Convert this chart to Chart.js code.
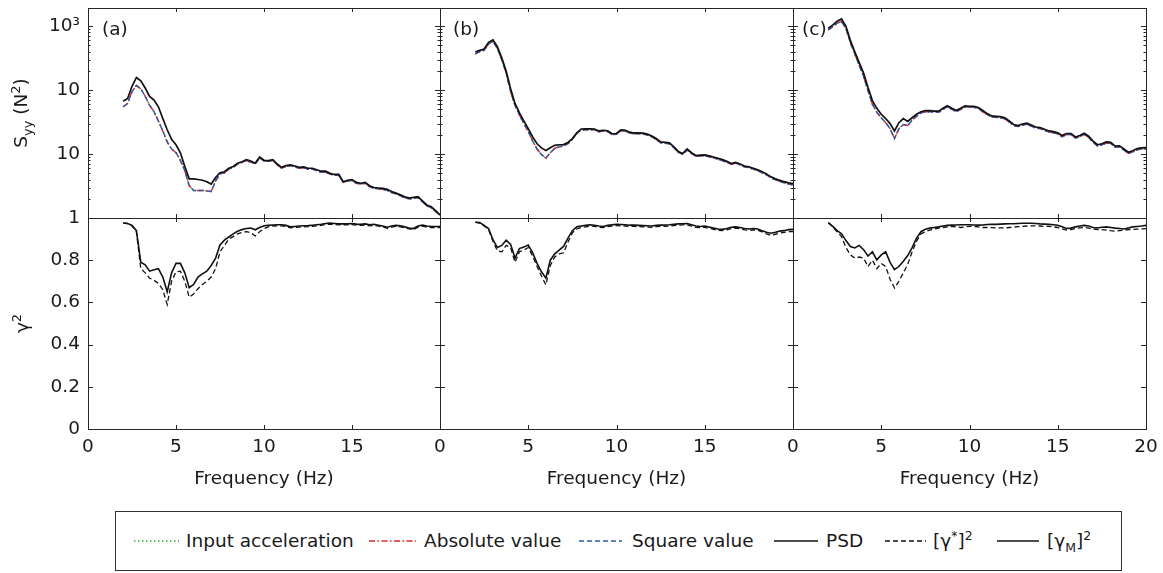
<!DOCTYPE html>
<html>
<head>
<meta charset="utf-8">
<script src="https://cdn.jsdelivr.net/npm/chart.js@4.4.0/dist/chart.umd.min.js"></script>
<style>
  html, body { margin: 0; padding: 0; background: #fff; }
  body { width: 1163px; height: 573px; position: relative; overflow: hidden; font-family: "DejaVu Sans", sans-serif; color: #1a1a1a; }
  canvas { position: absolute; }
  #legend { position: absolute; left: 115px; top: 511px; width: 1007px; height: 60px; border: 1px solid #333; box-sizing: border-box; }
  #legend svg { position: absolute; top: 26px; }
  #legend span { position: absolute; top: 0; line-height: 58px; font-size: 18.5px; white-space: nowrap; }
  #legend sup, #legend sub { font-size: 12.5px; line-height: 0; }
</style>
</head>
<body>
<canvas id="topA" width="462" height="250" style="left:0px;top:-12px"></canvas>
<canvas id="topB" width="397" height="250" style="left:418px;top:-12px"></canvas>
<canvas id="topC" width="397" height="250" style="left:771px;top:-12px"></canvas>
<canvas id="botA" width="462" height="297" style="left:0px;top:198px"></canvas>
<canvas id="botB" width="397" height="297" style="left:418px;top:198px"></canvas>
<canvas id="botC" width="397" height="297" style="left:771px;top:198px"></canvas>

<div id="legend">
  <svg width="45" height="6" style="left:18px"><line x1="0" y1="3" x2="45" y2="3" stroke="#3aa83a" stroke-width="1.5" stroke-dasharray="1.5 2.5"/></svg>
  <span style="left:70px">Input acceleration</span>
  <svg width="47" height="6" style="left:253px"><line x1="0" y1="3" x2="47" y2="3" stroke="#e3262b" stroke-width="1.5" stroke-dasharray="6 2.5 1.5 2.5"/></svg>
  <span style="left:308px">Absolute value</span>
  <svg width="43" height="6" style="left:463px"><line x1="0" y1="3" x2="43" y2="3" stroke="#2f58b0" stroke-width="1.5" stroke-dasharray="5 3"/></svg>
  <span style="left:516px">Square value</span>
  <svg width="44" height="6" style="left:658px"><line x1="0" y1="3" x2="44" y2="3" stroke="#111" stroke-width="1.6"/></svg>
  <span style="left:710px">PSD</span>
  <svg width="41" height="6" style="left:769px"><line x1="0" y1="3" x2="41" y2="3" stroke="#111" stroke-width="1.4" stroke-dasharray="5 3"/></svg>
  <span style="left:817px">[γ<sup>*</sup>]<sup>2</sup></span>
  <svg width="42" height="6" style="left:881px"><line x1="0" y1="3" x2="42" y2="3" stroke="#111" stroke-width="1.6"/></svg>
  <span style="left:931px">[γ<sub>M</sub>]<sup>2</sup></span>
</div>

<script>
// frequency axis (Hz)
const freq = [2, 2.25, 2.5, 2.75, 3, 3.25, 3.5, 3.75, 4, 4.25, 4.5, 4.75, 5, 5.25, 5.5, 5.75, 6, 6.25, 6.5, 6.75, 7, 7.25,
  7.5, 7.75, 8, 8.25, 8.5, 8.75, 9, 9.25, 9.5, 9.75, 10, 10.25, 10.5, 10.75, 11, 11.25, 11.5, 11.75, 12, 12.25,
  12.5, 12.75, 13, 13.25, 13.5, 13.75, 14, 14.25, 14.5, 14.75, 15, 15.25, 15.5, 15.75, 16, 16.25, 16.5, 16.75,
  17, 17.25, 17.5, 17.75, 18, 18.25, 18.5, 18.75, 19, 19.25, 19.5, 19.75, 20];

// tick values and labels
const xTicks = [0, 5, 10, 15, 20];
const xLabelsA = ['0', '5', '10', '15', ''];
const xLabelsB = ['0', '5', '10', '15', ''];
const xLabelsC = ['0', '5', '10', '15', '20'];
const psdTicks = [1, 10, 100, 1000];
const psdTickLabels = ['', '10', '10', '10\u00B3'];
const psdMax = 1930;
const cohTicks = [0, 0.2, 0.4, 0.6, 0.8, 1];
const cohTickLabels = ['0', '0.2', '0.4', '0.6', '0.8', '1'];

// (a) S_yy
const psdA = [67, 74, 115, 158, 140, 108, 80, 70, 55, 36, 24, 17, 14, 10.5, 6.4, 4.1, 4.1, 4.0, 3.9, 3.7, 3.4, 4.3,
  5.1, 5.3, 6.0, 6.4, 7.2, 7.6, 8.2, 7.8, 7.2, 9.0, 8.0, 7.9, 8.2, 7.0, 6.2, 6.6, 6.8, 6.5, 6.2, 6.3,
  6.0, 6.0, 5.7, 5.4, 5.4, 5.0, 4.8, 4.8, 3.7, 3.9, 4.0, 3.6, 3.5, 3.6, 3.2, 3.0, 2.95, 2.9,
  2.8, 2.6, 2.45, 2.3, 2.15, 2.05, 2.1, 2.15, 1.85, 1.6, 1.5, 1.3, 1.12];
const squareA = [55, 62, 95, 118, 105, 80, 58, 46, 33, 23, 15.5, 12, 10.5, 8, 5.5, 3.2, 2.7, 2.7, 2.7, 2.65, 2.6, 3.8,
  4.9, 5.1, 5.8, 6.2, 7.0, 7.4, 7.9, 7.5, 7.0, 8.7, 7.8, 7.7, 7.9, 6.8, 6.0, 6.4, 6.6, 6.3, 6.0, 6.1,
  5.8, 5.8, 5.5, 5.2, 5.2, 4.85, 4.65, 4.65, 3.6, 3.8, 3.85, 3.5, 3.4, 3.5, 3.1, 2.9, 2.85, 2.8,
  2.7, 2.5, 2.38, 2.23, 2.08, 1.98, 2.03, 2.08, 1.8, 1.55, 1.45, 1.27, 1.1];
// the input-acceleration and absolute-value curves lie on top of the square-value curve
const inputA = squareA;
const absA = squareA;
// (a) coherence
const gMA = [0.976, 0.974, 0.965, 0.94, 0.79, 0.778, 0.748, 0.755, 0.76, 0.72, 0.65, 0.74, 0.785, 0.785, 0.74, 0.67, 0.685, 0.72, 0.735, 0.748, 0.775, 0.81,
  0.872, 0.895, 0.91, 0.925, 0.937, 0.945, 0.95, 0.952, 0.944, 0.955, 0.963, 0.965, 0.967, 0.968, 0.968, 0.965, 0.958, 0.96, 0.962, 0.963,
  0.964, 0.966, 0.968, 0.97, 0.974, 0.976, 0.974, 0.972, 0.973, 0.972, 0.974, 0.971, 0.97, 0.972, 0.968, 0.97, 0.966, 0.962,
  0.956, 0.962, 0.965, 0.963, 0.958, 0.953, 0.95, 0.962, 0.966, 0.962, 0.96, 0.96, 0.96];
const gStarA = [0.976, 0.974, 0.963, 0.935, 0.76, 0.74, 0.715, 0.705, 0.69, 0.66, 0.59, 0.70, 0.745, 0.748, 0.70, 0.625, 0.64, 0.665, 0.685, 0.70, 0.72, 0.76,
  0.84, 0.87, 0.90, 0.912, 0.925, 0.932, 0.935, 0.93, 0.915, 0.935, 0.95, 0.958, 0.962, 0.963, 0.963, 0.96, 0.953, 0.955, 0.957, 0.958,
  0.959, 0.961, 0.963, 0.965, 0.969, 0.971, 0.969, 0.967, 0.968, 0.967, 0.969, 0.966, 0.965, 0.967, 0.963, 0.965, 0.961, 0.957,
  0.951, 0.957, 0.96, 0.958, 0.953, 0.948, 0.945, 0.957, 0.961, 0.957, 0.955, 0.955, 0.955];

// (b) S_yy
const psdB = [395, 420, 440, 560, 610, 480, 320, 197, 105, 62, 44, 33, 25, 18.5, 14.5, 12.5, 11.4, 12.6, 13.7, 14, 14.1, 15.2,
  17.5, 21.5, 24.7, 24.8, 24.8, 24.7, 23, 23.6, 23.2, 20.8, 21.0, 24.0, 23.5, 22, 21.4, 21.4, 21.3, 20.5, 19.2, 17.5,
  15.5, 15.3, 15, 13, 11, 10.2, 12, 10.5, 9.5, 9.6, 9.7, 9.4, 9.0, 8.6, 8.2, 7.7, 7.1, 7.4,
  7.0, 6.5, 6.3, 6.0, 5.7, 5.3, 4.9, 4.4, 4.1, 3.9, 3.7, 3.55, 3.45];
const squareB = [370, 400, 420, 530, 580, 450, 300, 185, 95, 58, 41, 30, 22.5, 16, 12, 9.8, 8.7, 10.5, 12.3, 13, 13.4, 14.5,
  17, 21, 24, 24, 24, 24, 22.3, 22.9, 22.5, 20.2, 20.4, 23.3, 22.8, 21.3, 20.8, 20.8, 20.7, 19.9, 18.6, 17,
  15, 14.8, 14.5, 12.6, 10.7, 9.9, 11.6, 10.2, 9.2, 9.3, 9.4, 9.1, 8.7, 8.3, 7.9, 7.4, 6.9, 7.2,
  6.8, 6.3, 6.1, 5.8, 5.5, 5.1, 4.75, 4.25, 3.95, 3.75, 3.55, 3.4, 3.3];
const inputB = squareB;
const absB = squareB;
const gMB = [0.98, 0.978, 0.965, 0.95, 0.897, 0.86, 0.87, 0.895, 0.875, 0.81, 0.855, 0.862, 0.872, 0.835, 0.785, 0.745, 0.715, 0.8, 0.83, 0.848, 0.865, 0.905,
  0.94, 0.958, 0.962, 0.965, 0.968, 0.966, 0.962, 0.96, 0.965, 0.968, 0.97, 0.969, 0.968, 0.966, 0.966, 0.965, 0.964, 0.963, 0.962, 0.965,
  0.966, 0.967, 0.968, 0.97, 0.972, 0.973, 0.974, 0.968, 0.962, 0.96, 0.962, 0.957, 0.952, 0.948, 0.946, 0.95, 0.956, 0.958,
  0.955, 0.95, 0.948, 0.95, 0.948, 0.94, 0.932, 0.928, 0.932, 0.938, 0.94, 0.945, 0.946];
const gStarB = [0.98, 0.976, 0.962, 0.945, 0.89, 0.845, 0.84, 0.87, 0.86, 0.79, 0.84, 0.848, 0.86, 0.82, 0.77, 0.725, 0.683, 0.775, 0.815, 0.83, 0.835, 0.885,
  0.93, 0.948, 0.955, 0.958, 0.962, 0.96, 0.956, 0.954, 0.959, 0.962, 0.964, 0.963, 0.962, 0.96, 0.96, 0.959, 0.958, 0.957, 0.956, 0.959,
  0.96, 0.961, 0.962, 0.964, 0.966, 0.967, 0.968, 0.962, 0.956, 0.954, 0.956, 0.951, 0.946, 0.942, 0.94, 0.944, 0.95, 0.952,
  0.949, 0.944, 0.942, 0.944, 0.942, 0.934, 0.925, 0.918, 0.922, 0.928, 0.932, 0.935, 0.936];

// (c) S_yy
const psdC = [930, 1040, 1200, 1300, 1000, 600, 400, 270, 185, 110, 68, 52, 42, 36, 30, 23, 31, 36, 32.5, 37, 42, 46,
  48, 48, 47, 47, 52, 57, 52, 48, 52, 57, 56, 56, 53.5, 48, 43, 39.5, 39, 38.5, 37, 33,
  29, 28, 29.5, 30.5, 28.5, 26.5, 26, 24.5, 23, 22.5, 21.5, 19.5, 21, 21, 18.5, 19.5, 21.2, 19,
  16, 14, 14.5, 15.5, 15.3, 13.3, 13.5, 12, 10.7, 11.3, 12.2, 12.5, 12.6];
const squareC = [880, 980, 1120, 1180, 920, 550, 370, 245, 165, 98, 60, 45, 37, 31, 25, 17.5, 25, 29, 28, 34, 39, 44,
  46, 46, 45, 45, 50, 55, 50, 46, 50, 55, 54, 54, 51.5, 46, 41.5, 38, 37.5, 37, 35.5, 31.7,
  28, 27, 28.3, 29.3, 27.4, 25.5, 25, 23.5, 22.1, 21.6, 20.6, 18.7, 20.2, 20.2, 17.8, 18.7, 20.4, 18.2,
  15.4, 13.4, 13.9, 14.9, 14.7, 12.8, 13, 11.5, 10.3, 10.8, 11.7, 12, 12.1];
const inputC = squareC;
const absC = squareC;
const gMC = [0.978, 0.96, 0.94, 0.925, 0.893, 0.865, 0.858, 0.87, 0.85, 0.82, 0.84, 0.802, 0.825, 0.84, 0.79, 0.755, 0.77, 0.795, 0.822, 0.86, 0.905, 0.935,
  0.947, 0.952, 0.955, 0.958, 0.962, 0.965, 0.966, 0.967, 0.968, 0.968, 0.968, 0.967, 0.966, 0.967, 0.969, 0.97, 0.97, 0.971, 0.972, 0.973,
  0.973, 0.974, 0.975, 0.975, 0.975, 0.974, 0.972, 0.971, 0.97, 0.968, 0.966, 0.958, 0.95, 0.952, 0.958, 0.962, 0.965, 0.962,
  0.955, 0.953, 0.956, 0.958, 0.955, 0.952, 0.95, 0.948, 0.953, 0.958, 0.96, 0.962, 0.965];
const gStarC = [0.978, 0.958, 0.935, 0.912, 0.86, 0.825, 0.81, 0.815, 0.81, 0.77, 0.80, 0.76, 0.785, 0.77, 0.71, 0.668, 0.70, 0.74, 0.78, 0.84, 0.89, 0.925,
  0.935, 0.943, 0.948, 0.952, 0.955, 0.958, 0.96, 0.958, 0.955, 0.958, 0.96, 0.96, 0.958, 0.955, 0.955, 0.954, 0.953, 0.953, 0.953, 0.955,
  0.957, 0.959, 0.96, 0.962, 0.963, 0.963, 0.962, 0.96, 0.96, 0.958, 0.955, 0.948, 0.943, 0.945, 0.95, 0.953, 0.955, 0.952,
  0.948, 0.945, 0.945, 0.943, 0.94, 0.938, 0.94, 0.942, 0.945, 0.946, 0.947, 0.948, 0.95];

const FONT = '"DejaVu Sans", sans-serif';
const TXT = '#1a1a1a';
const tickFont = { family: FONT, size: 18.5 };

// log-axis minor ticks (2..9 per decade)
const psdMinor = [];
[1, 10, 100, 1000].forEach(d => { for (let k = 2; k <= 9; k++) if (k * d < psdMax) psdMinor.push(k * d); });

function pts(vals) { return vals.map((v, i) => ({ x: freq[i], y: v })); }

function drawRotated(ctx, parts, cx, cy) {
  ctx.save();
  ctx.translate(cx, cy);
  ctx.rotate(-Math.PI / 2);
  ctx.textBaseline = 'alphabetic';
  ctx.textAlign = 'left';
  ctx.fillStyle = TXT;
  let w = 0;
  parts.forEach(p => { ctx.font = p[1] + 'px ' + FONT; w += ctx.measureText(p[0]).width; });
  let x = -w / 2;
  parts.forEach(p => {
    ctx.font = p[1] + 'px ' + FONT;
    ctx.fillText(p[0], x, p[2]);
    x += ctx.measureText(p[0]).width;
  });
  ctx.restore();
}

// box, inward ticks, panel letter and y title like the original figure
const matlabAxes = {
  id: 'matlabAxes',
  afterDraw(chart, args, o) {
    const { ctx, chartArea: a, scales } = chart;
    const xs = scales.x, ys = scales.y;
    ctx.save();
    ctx.strokeStyle = '#262626';
    ctx.lineWidth = 1;
    ctx.beginPath();
    xTicks.forEach(v => {
      const px = Math.round(xs.getPixelForValue(v)) + 0.5;
      ctx.moveTo(px, a.top); ctx.lineTo(px, a.top + 4);
      ctx.moveTo(px, a.bottom); ctx.lineTo(px, a.bottom - 4);
    });
    o.yTicks.forEach(v => {
      const py = Math.round(ys.getPixelForValue(v)) + 0.5;
      ctx.moveTo(a.left, py); ctx.lineTo(a.left + 5, py);
      ctx.moveTo(a.right, py); ctx.lineTo(a.right - 5, py);
    });
    (o.yMinor || []).forEach(v => {
      const py = Math.round(ys.getPixelForValue(v)) + 0.5;
      ctx.moveTo(a.left, py); ctx.lineTo(a.left + 2.5, py);
      ctx.moveTo(a.right, py); ctx.lineTo(a.right - 2.5, py);
    });
    ctx.stroke();
    ctx.strokeRect(Math.round(a.left) + 0.5, Math.round(a.top) + 0.5, Math.round(a.right - a.left), Math.round(a.bottom - a.top));
    if (o.letter) {
      ctx.fillStyle = TXT;
      ctx.font = '18.5px ' + FONT;
      ctx.textBaseline = 'middle';
      ctx.textAlign = 'left';
      ctx.fillText(o.letter, a.left + o.letterDx, a.top + 22);
    }
    if (o.yTitle) drawRotated(ctx, o.yTitle, o.yTitleX, (a.top + a.bottom) / 2);
    ctx.restore();
  }
};

function baseOptions(first, top, bottom) {
  return {
    responsive: false, animation: false, devicePixelRatio: 1, events: [],
    layout: { padding: { left: first ? 0 : 22, right: 22, top: top, bottom: bottom } },
    elements: { point: { radius: 0 }, line: { tension: 0 } },
  };
}

function yAxisWidth(first) {
  return s => { if (first) s.width = 88; };
}

function topChart(id, psd, input, abs, square, letter, letterDx, first) {
  const opts = baseOptions(first, 20, 20);
  opts.scales = {
    x: { type: 'linear', min: 0, max: 20, display: false },
    y: {
      type: 'logarithmic', min: 1, max: psdMax, display: first,
      grid: { display: false, drawTicks: false }, border: { display: false },
      afterBuildTicks: s => { s.ticks = psdTicks.map(v => ({ value: v })); },
      afterFit: yAxisWidth(first),
      ticks: { callback: (v, i) => psdTickLabels[i], padding: 8, font: tickFont, color: TXT, autoSkip: false }
    }
  };
  opts.plugins = {
    legend: { display: false }, tooltip: { enabled: false },
    matlabAxes: {
      yTicks: psdTicks, yMinor: psdMinor, letter: letter, letterDx: letterDx,
      yTitle: first ? [['S', 18.5, 0], ['yy', 13, 5], [' (N', 18.5, 0], ['2', 13, -7], [')', 18.5, 0]] : null,
      yTitleX: 27
    }
  };
  return new Chart(document.getElementById(id), {
    type: 'line',
    data: {
      datasets: [
        { label: 'PSD', data: pts(psd), borderColor: '#111', borderWidth: 1.7, order: 0 },
        { label: 'Square value', data: pts(square), borderColor: '#2f58b0', borderWidth: 1.4, borderDash: [5, 3], order: 1 },
        { label: 'Absolute value', data: pts(abs), borderColor: '#e3262b', borderWidth: 1.4, borderDash: [6, 2.5, 1.5, 2.5], order: 2 },
        { label: 'Input acceleration', data: pts(input), borderColor: '#3aa83a', borderWidth: 1.4, borderDash: [1.5, 2.5], order: 3 }
      ]
    },
    options: opts,
    plugins: [matlabAxes]
  });
}

function bottomChart(id, gStar, gM, xLabels, first) {
  const opts = baseOptions(first, 20, 0);
  opts.scales = {
    x: {
      type: 'linear', min: 0, max: 20,
      grid: { display: false, drawTicks: false }, border: { display: false },
      afterBuildTicks: s => { s.ticks = xTicks.map(v => ({ value: v })); },
      afterFit: s => { s.height = 66; },
      ticks: { callback: (v, i) => xLabels[i], padding: 7, font: tickFont, color: TXT, autoSkip: false, maxRotation: 0 },
      title: { display: true, text: 'Frequency (Hz)', font: tickFont, color: TXT, padding: { top: 0, bottom: 5 } }
    },
    y: {
      type: 'linear', min: 0, max: 1, display: first,
      grid: { display: false, drawTicks: false }, border: { display: false },
      afterBuildTicks: s => { s.ticks = cohTicks.map(v => ({ value: v })); },
      afterFit: yAxisWidth(first),
      ticks: { callback: (v, i) => cohTickLabels[i], padding: 8, font: tickFont, color: TXT, autoSkip: false }
    }
  };
  opts.plugins = {
    legend: { display: false }, tooltip: { enabled: false },
    matlabAxes: {
      yTicks: cohTicks,
      yTitle: first ? [['\u03B3', 18.5, 0], ['2', 13, -7]] : null,
      yTitleX: 28
    }
  };
  return new Chart(document.getElementById(id), {
    type: 'line',
    data: {
      datasets: [
        { label: '[\u03B3M]2', data: pts(gM), borderColor: '#111', borderWidth: 1.6, order: 0 },
        { label: '[\u03B3*]2', data: pts(gStar), borderColor: '#111', borderWidth: 1.3, borderDash: [5, 3], order: 1 }
      ]
    },
    options: opts,
    plugins: [matlabAxes]
  });
}

topChart('topA', psdA, inputA, absA, squareA, '(a)', 14, true);
topChart('topB', psdB, inputB, absB, squareB, '(b)', 13, false);
topChart('topC', psdC, inputC, absC, squareC, '(c)', 9, false);
bottomChart('botA', gStarA, gMA, xLabelsA, true);
bottomChart('botB', gStarB, gMB, xLabelsB, false);
bottomChart('botC', gStarC, gMC, xLabelsC, false);
</script>
</body>
</html>
